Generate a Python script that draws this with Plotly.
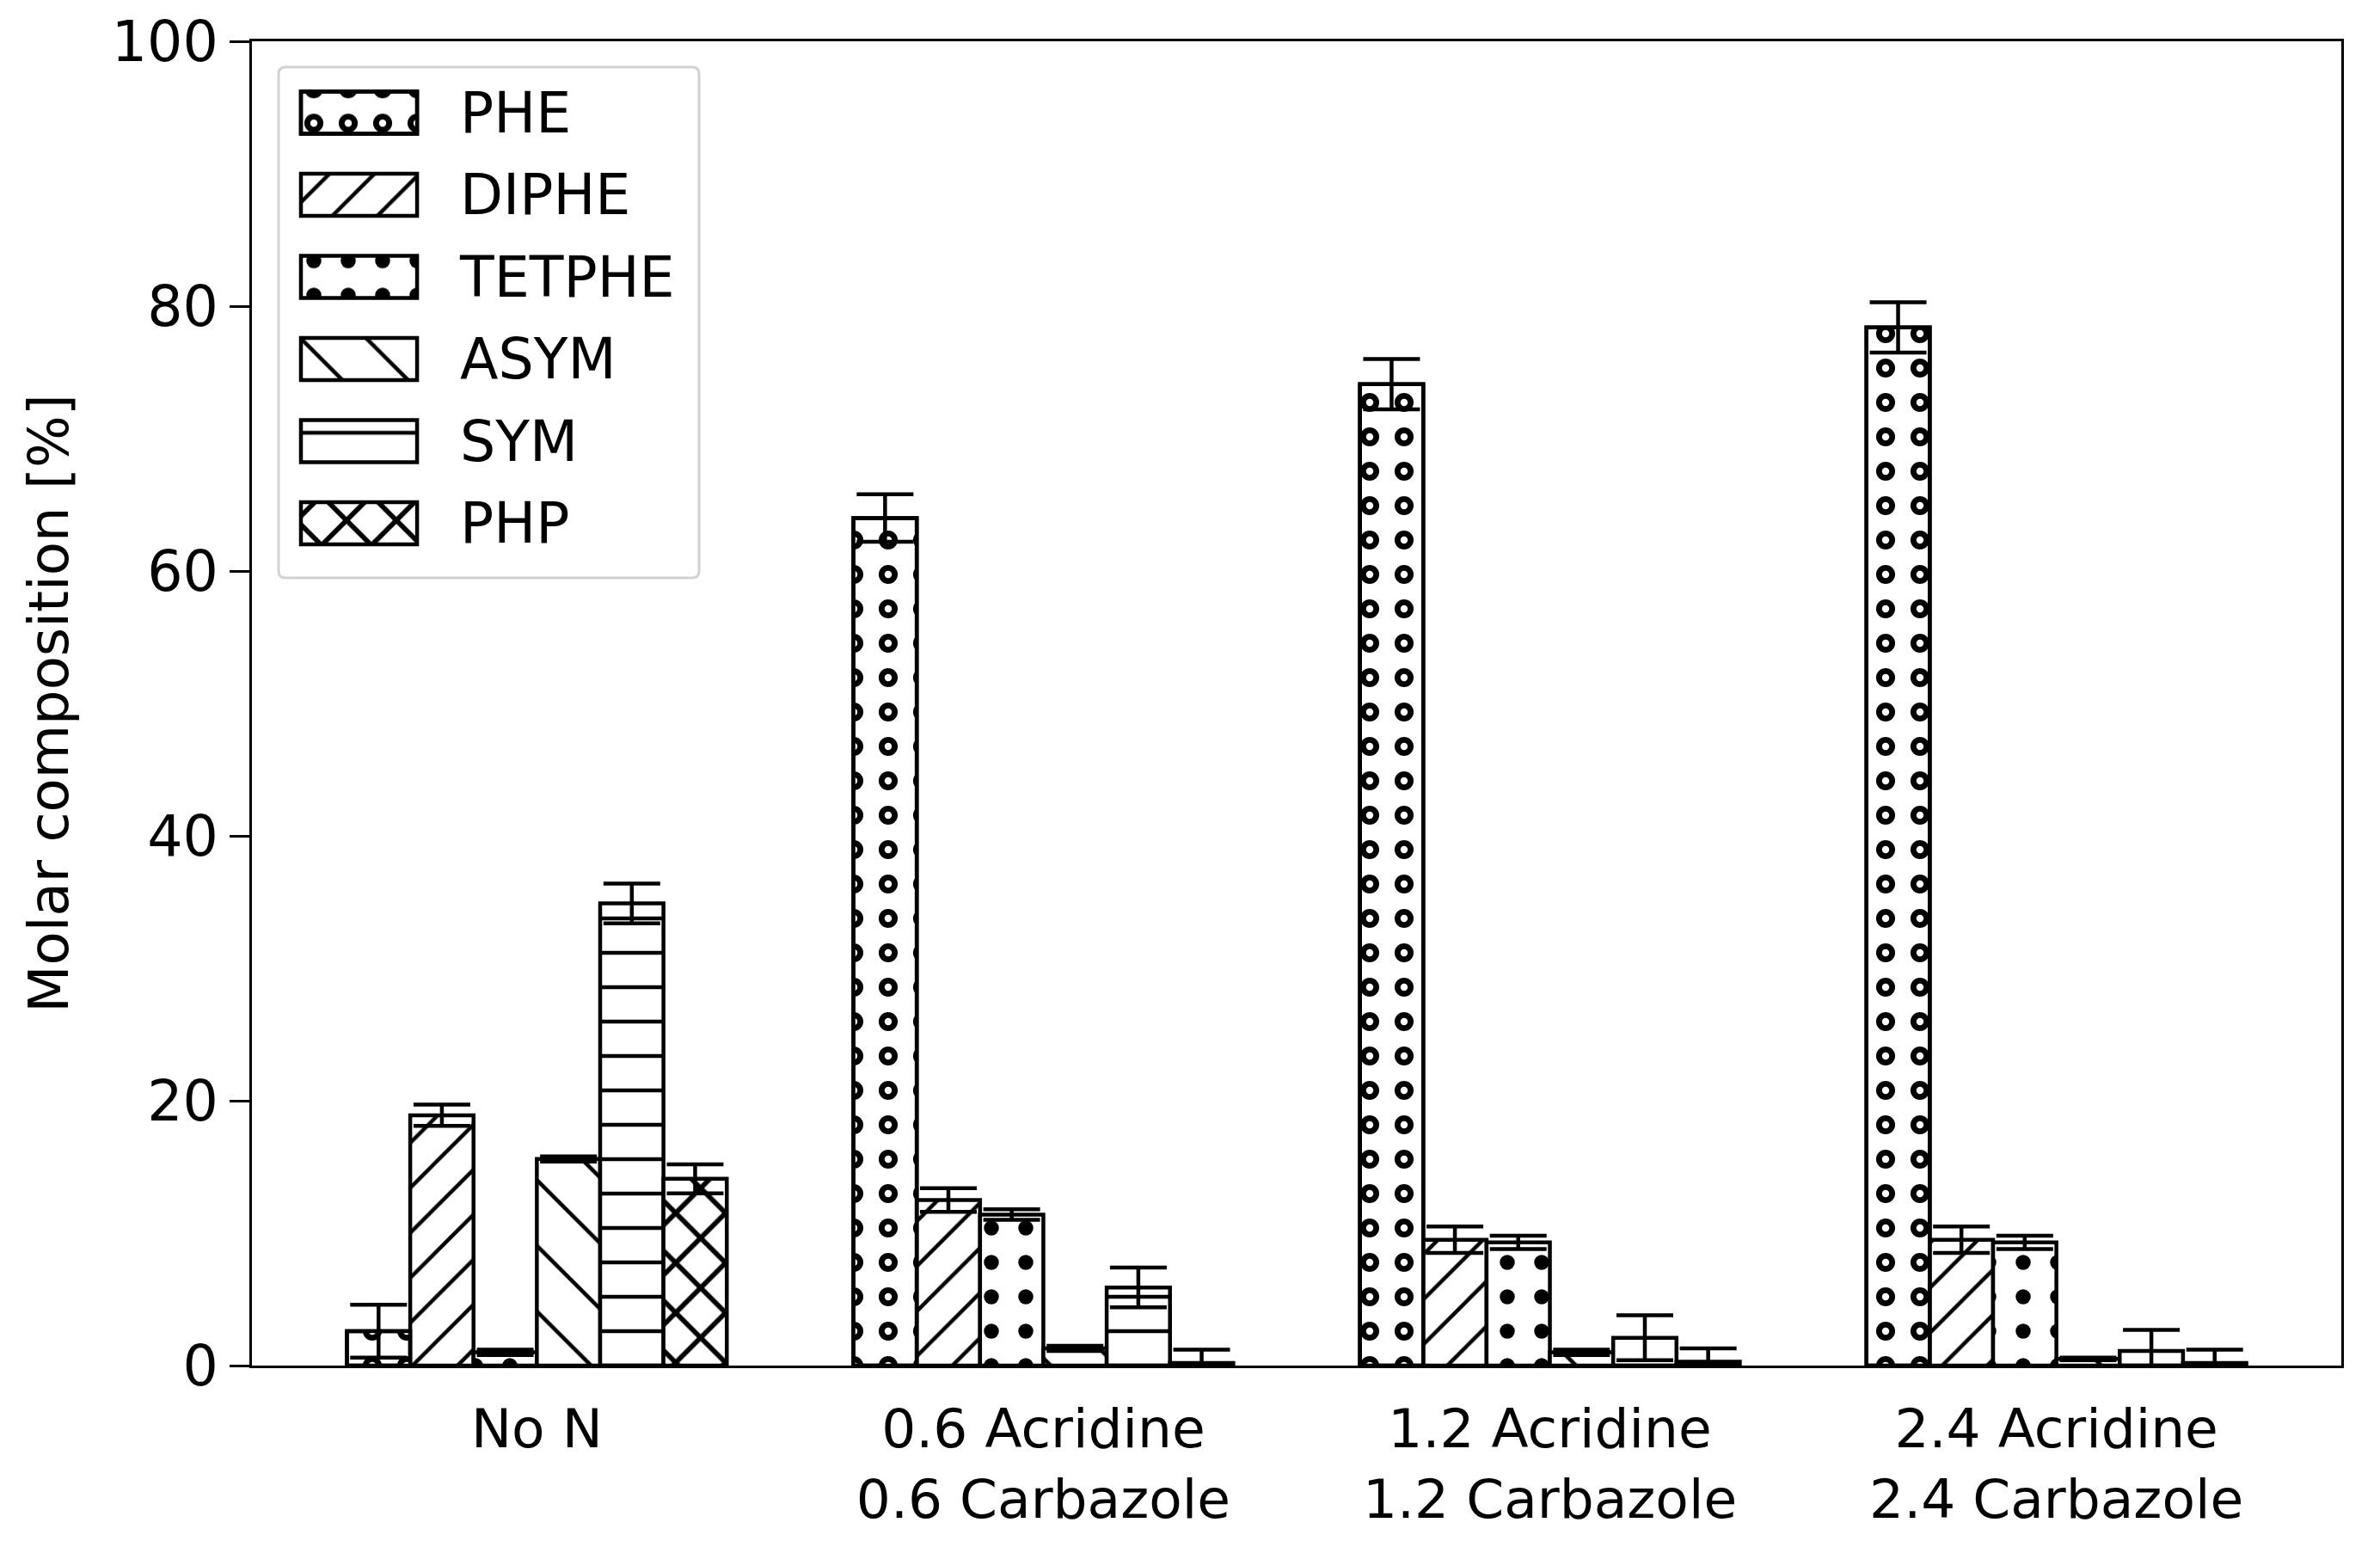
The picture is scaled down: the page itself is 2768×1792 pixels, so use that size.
import plotly.graph_objects as go

groups = ["No N", "0.6 Acridine<br>0.6 Carbazole", "1.2 Acridine<br>1.2 Carbazole", "2.4 Acridine<br>2.4 Carbazole"]
species = ["PHE", "DIPHE", "TETPHE", "ASYM", "SYM", "PHP"]

phe = [2.6, 64.0, 74.1, 78.4]
phe_err = [2.0, 1.8, 1.9, 1.9]
diphe = [18.9, 12.5, 9.5, 9.5]
diphe_err = [0.8, 0.9, 1.0, 1.0]
tetphe = [1.0, 11.4, 9.3, 9.3]
tetphe_err = [0.2, 0.4, 0.5, 0.5]
asym = [15.6, 1.3, 1.0, 0.5]
asym_err = [0.2, 0.2, 0.2, 0.1]
sym = [34.9, 5.9, 2.1, 1.1]
sym_err = [1.5, 1.5, 1.7, 1.6]
php = [14.1, 0.2, 0.3, 0.2]
php_err = [1.1, 1.0, 1.0, 1.0]

values = [phe, diphe, tetphe, asym, sym, php]
errors = [phe_err, diphe_err, tetphe_err, asym_err, sym_err, php_err]

# hatch per species: shape, tile size, solidity
hatches = {
    "PHE": (".", 40, 0.24),
    "DIPHE": ("/", 37, 0.12),
    "TETPHE": (".", 40, 0.15),
    "ASYM": ("\\", 54, 0.085),
    "SYM": ("-", 40, 0.11),
    "PHP": ("x", 41, 0.26),
}
ring_hole = 0.035  # white dot punched into PHE dots -> rings

bar_w = 0.125
edge = dict(color="black", width=4.5)
err_style = dict(type="data", color="black", thickness=4.5, width=33)


def hatch(name):
    shape, size, sol = hatches[name]
    return dict(shape=shape, size=size, solidity=sol, fgcolor="black",
                bgcolor="white", fgopacity=1, fillmode="replace")


def holes():
    return dict(shape=".", size=hatches["PHE"][1], solidity=ring_hole,
                fgcolor="white", bgcolor="rgba(0,0,0,0)", fgopacity=1,
                fillmode="replace")


fig = go.Figure()

# main bars
for i, name in enumerate(species):
    fig.add_bar(
        x=groups, y=values[i], name=name,
        width=bar_w, offset=(i - 3) * bar_w,
        marker=dict(color="white", line=edge, pattern=hatch(name)),
        error_y=None if name == "PHE" else dict(array=errors[i], **err_style),
        showlegend=False, hoverinfo="skip",
    )
fig.add_bar(
    x=groups, y=phe, width=bar_w, offset=-3 * bar_w,
    marker=dict(color="rgba(0,0,0,0)", line=edge, pattern=holes()),
    error_y=dict(array=phe_err, **err_style),
    showlegend=False, hoverinfo="skip",
)

# legend drawn as a small subplot of swatches
for name in species:
    fig.add_bar(
        x=[1], y=[name], orientation="h", width=0.513,
        xaxis="x2", yaxis="y2",
        marker=dict(color="white", line=edge, pattern=hatch(name)),
        showlegend=False, hoverinfo="skip",
    )
fig.add_bar(
    x=[1], y=["PHE"], orientation="h", width=0.513,
    xaxis="x2", yaxis="y2",
    marker=dict(color="rgba(0,0,0,0)", line=edge, pattern=holes()),
    showlegend=False, hoverinfo="skip",
)

x0, x1, y0, y1 = 0.01276, 0.214, 0.5948, 0.9805
rx, ry = 0.0033, 0.0052
box = (f"M {x0 + rx},{y0} L {x1 - rx},{y0} Q {x1},{y0} {x1},{y0 + ry} "
       f"L {x1},{y1 - ry} Q {x1},{y1} {x1 - rx},{y1} L {x0 + rx},{y1} "
       f"Q {x0},{y1} {x0},{y1 - ry} L {x0},{y0 + ry} Q {x0},{y0} {x0 + rx},{y0} Z")

fig.update_layout(
    width=2768, height=1792, autosize=False,
    margin=dict(l=293, r=45, t=48, b=204, pad=0),
    barmode="overlay",
    paper_bgcolor="white", plot_bgcolor="rgba(0,0,0,0)",
    font=dict(family="DejaVu Sans", size=64, color="black"),
    showlegend=False,
    shapes=[dict(type="path", path=box, xref="paper", yref="paper",
                 line=dict(color="#d2d2d2", width=3), fillcolor="white",
                 layer="below")],
    xaxis=dict(
        type="category", range=[-0.5625, 3.5625],
        showline=True, mirror=True, linecolor="black", linewidth=3.3,
        ticks="", showgrid=False, zeroline=False,
        tickfont=dict(size=63), ticklabelstandoff=16,
    ),
    yaxis=dict(
        range=[0, 100], tickvals=[0, 20, 40, 60, 80, 100],
        showline=True, mirror=True, linecolor="black", linewidth=3.3,
        ticks="outside", ticklen=23, tickwidth=3.3, tickcolor="black",
        showgrid=False, zeroline=False, tickfont=dict(size=65),
        title=dict(text="Molar composition [%]", font=dict(size=64), standoff=30),
    ),
    xaxis2=dict(domain=[0.0214, 0.0811], range=[-0.037, 1.037], visible=False,
                anchor="y2"),
    yaxis2=dict(
        domain=[0.6050, 0.9771], anchor="x2", side="right", type="category",
        categoryorder="array", categoryarray=species, range=[5.5, -0.5],
        showline=False, showgrid=False, zeroline=False, ticks="",
        tickfont=dict(size=65), ticklabelstandoff=44,
    ),
)

fig.write_html("out.html", config={"displayModeBar": False},
               post_script="document.body.style.margin='0';")
